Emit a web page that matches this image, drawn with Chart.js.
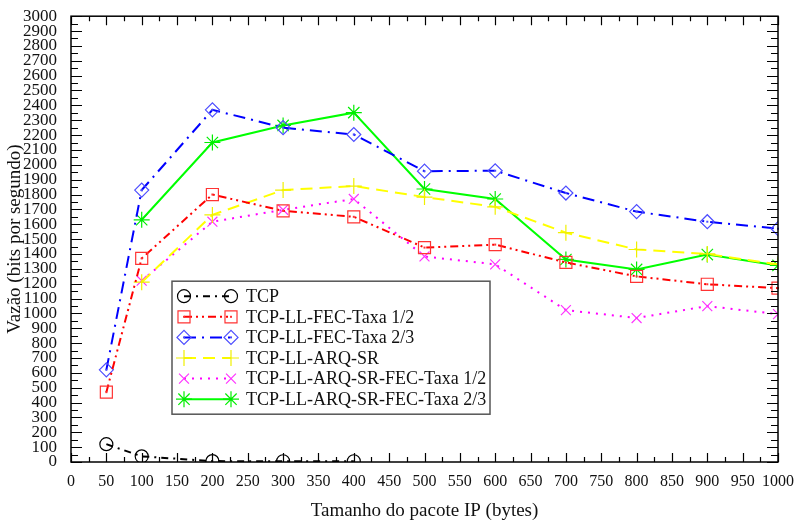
<!DOCTYPE html>
<html>
<head>
<meta charset="utf-8">
<script src="https://cdn.jsdelivr.net/npm/chart.js@4/dist/chart.umd.min.js"></script>
<style>
  html, body { margin: 0; padding: 0; background: #fff; }
  #wrap { width: 797px; height: 527px; }
</style>
</head>
<body>
<div id="wrap"><canvas id="chart"></canvas></div>
<script>
// packet sizes (bytes)
const sizes = [50, 100, 200, 300, 400, 500, 600, 700, 800, 900, 1000];

// throughput (bits/s) per scheme, null = not measured
const tcp        = [120, 38, 6, 5, 5, null, null, null, null, null, null];
const fecHalf    = [470, 1370, 1800, 1690, 1650, 1443, 1463, 1343, 1249, 1196, 1170];
const fecTwo     = [620, 1830, 2370, 2250, 2204, 1957, 1960, 1810, 1685, 1617, 1570];
const arq        = [null, 1210, 1663, 1830, 1857, 1783, 1717, 1543, 1430, 1400, 1330];
const arqFecHalf = [null, 1220, 1617, 1697, 1770, 1383, 1330, 1022, 969, 1049, 995];
const arqFecTwo  = [null, 1630, 2150, 2265, 2351, 1837, 1770, 1363, 1296, 1396, 1323];

const names = [
    'TCP',
    'TCP-LL-FEC-Taxa 1/2',
    'TCP-LL-FEC-Taxa 2/3',
    'TCP-LL-ARQ-SR',
    'TCP-LL-ARQ-SR-FEC-Taxa 1/2',
    'TCP-LL-ARQ-SR-FEC-Taxa 2/3'
];

const FONT = "'Liberation Serif', 'DejaVu Serif', serif";

const toPoints = vals => sizes
    .map((x, i) => ({ x: x, y: vals[i] }))
    .filter(p => p.y !== null);

function series(label, vals, line, marker, dash, style, radius, dot) {
    return {
        label: label,
        data: toPoints(vals),
        borderColor: line,
        backgroundColor: 'transparent',
        borderWidth: 2,
        borderDash: dash,
        pointStyle: style,
        pointRadius: radius,
        pointBorderColor: marker,
        pointBackgroundColor: 'transparent',
        pointBorderWidth: 1.2,
        centerDot: dot,
        tension: 0
    };
}

const datasets = [
    series(names[0], tcp, '#000000', '#000000', [7, 5, 2, 5], 'circle', 6.5, false),
    series(names[1], fecHalf, '#ff0000', '#ff3333', [8, 4, 2, 4, 2, 4], 'rect', 8.5, true),
    series(names[2], fecTwo, '#0000ff', '#4d4dff', [12, 6, 2, 6], 'rectRot', 7, true),
    series(names[3], arq, '#ffff00', '#f0f000', [12, 7], 'cross', 8, false),
    series(names[4], arqFecHalf, '#ff00ff', '#ff33ff', [2, 6], 'crossRot', 7, false),
    series(names[5], arqFecTwo, '#00ff00', '#00ee00', [], 'star', 8, false)
];

// frame, inward ticks, centre dots and the boxed legend
const decorations = {
    id: 'decorations',
    afterDatasetsDraw(chart) {
        const ctx = chart.ctx;
        const a = chart.chartArea;
        const xs = chart.scales.x;
        const ys = chart.scales.y;
        ctx.save();

        // centre dots in square / diamond markers
        chart.data.datasets.forEach((ds, i) => {
            if (!ds.centerDot) return;
            ctx.fillStyle = ds.pointBorderColor;
            chart.getDatasetMeta(i).data.forEach(pt => {
                ctx.fillRect(pt.x - 1, pt.y - 1, 2, 2);
            });
        });

        // frame
        ctx.strokeStyle = '#000';
        ctx.lineWidth = 1.5;
        ctx.strokeRect(a.left, a.top, a.right - a.left, a.bottom - a.top);

        ctx.lineWidth = 1.2;
        ctx.beginPath();
        for (let v = 0; v <= 1000; v += 25) {
            const px = Math.round(xs.getPixelForValue(v)) + 0.5;
            const len = v % 50 === 0 ? 9 : 5;
            ctx.moveTo(px, a.bottom); ctx.lineTo(px, a.bottom - len);
            ctx.moveTo(px, a.top); ctx.lineTo(px, a.top + len);
        }
        for (let v = 0; v <= 3000; v += 50) {
            const py = Math.round(ys.getPixelForValue(v)) + 0.5;
            const len = v % 100 === 0 ? 11 : 7;
            ctx.moveTo(a.left, py); ctx.lineTo(a.left + len, py);
            ctx.moveTo(a.right, py); ctx.lineTo(a.right - len, py);
        }
        ctx.stroke();

        // legend box
        const bx = a.left + 101, by = a.top + 265, bw = 318, bh = 133;
        ctx.fillStyle = '#fff';
        ctx.fillRect(bx, by, bw, bh);
        ctx.strokeStyle = '#555';
        ctx.lineWidth = 1.5;
        ctx.strokeRect(bx, by, bw, bh);

        ctx.font = '18px ' + FONT;
        ctx.textBaseline = 'middle';
        chart.data.datasets.forEach((ds, i) => {
            const y = by + 15 + i * 20.6;
            const x1 = bx + 12, x2 = bx + 59;
            ctx.strokeStyle = ds.borderColor;
            ctx.lineWidth = ds.borderWidth;
            ctx.setLineDash(ds.borderDash);
            ctx.beginPath();
            ctx.moveTo(x1, y); ctx.lineTo(x2, y);
            ctx.stroke();
            ctx.setLineDash([]);
            ctx.strokeStyle = ds.pointBorderColor;
            ctx.fillStyle = 'transparent';
            ctx.lineWidth = ds.pointBorderWidth;
            [x1, x2].forEach(px => {
                Chart.helpers.drawPoint(ctx, {
                    pointStyle: ds.pointStyle,
                    radius: ds.pointRadius,
                    rotation: 0,
                    borderWidth: ds.pointBorderWidth
                }, px, y);
                if (ds.centerDot) {
                    ctx.fillStyle = ds.pointBorderColor;
                    ctx.fillRect(px - 1, y - 1, 2, 2);
                    ctx.fillStyle = 'transparent';
                }
            });
            ctx.fillStyle = '#111';
            ctx.fillText(ds.label, bx + 74, y + 1);
        });
        ctx.restore();
    }
};

new Chart(document.getElementById('chart'), {
    type: 'line',
    data: { datasets: datasets },
    plugins: [decorations],
    options: {
        responsive: true,
        maintainAspectRatio: false,
        animation: false,
        layout: { padding: { top: 13, right: 19, left: 0, bottom: 0 } },
        plugins: {
            legend: { display: false },
            tooltip: { enabled: false }
        },
        scales: {
            x: {
                type: 'linear',
                min: 0,
                max: 1000,
                grid: { display: false },
                border: { display: false },
                ticks: {
                    stepSize: 50,
                    autoSkip: false,
                    maxRotation: 0,
                    padding: 2,
                    color: '#111',
                    font: { family: FONT, size: 16 },
                    callback: v => String(v)
                },
                title: {
                    display: true,
                    text: 'Tamanho do pacote IP (bytes)',
                    color: '#111',
                    font: { family: FONT, size: 19 },
                    padding: { bottom: 5 }
                },
                afterFit: s => { s.height = 65; }
            },
            y: {
                min: 0,
                max: 3000,
                grid: { display: false },
                border: { display: false },
                ticks: {
                    stepSize: 100,
                    autoSkip: false,
                    padding: 6,
                    color: '#111',
                    font: { family: FONT, size: 17 },
                    callback: v => String(v)
                },
                title: {
                    display: true,
                    text: 'Vazão (bits por segundo)',
                    color: '#111',
                    font: { family: FONT, size: 19 },
                    padding: { top: 4 }
                },
                afterFit: s => { s.width = 71; }
            }
        }
    }
});
</script>
</body>
</html>
